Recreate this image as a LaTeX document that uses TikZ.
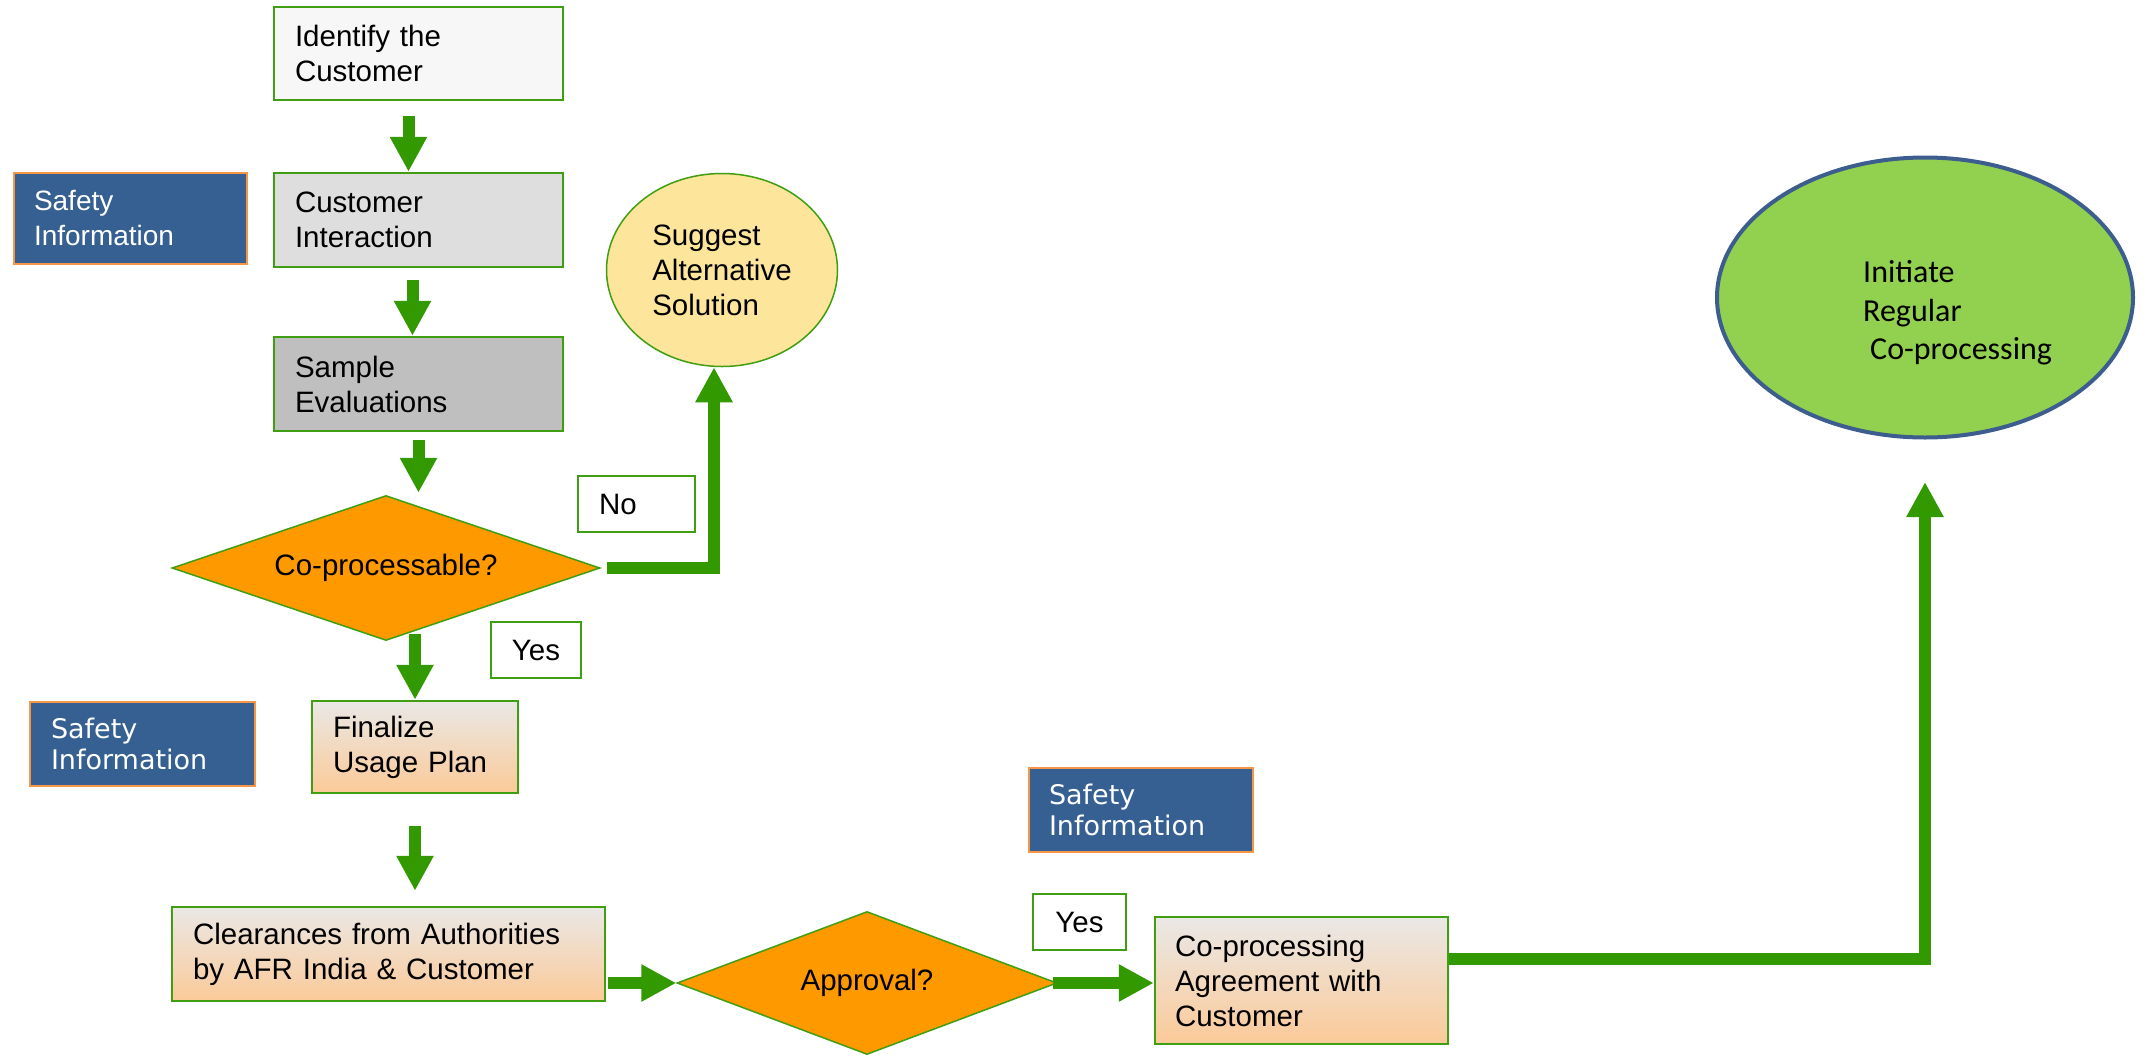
\documentclass[tikz,border=0pt]{standalone}
\usepackage{fontspec}
\setmainfont{Liberation Sans}
\newfontfamily\verdanafont{DejaVu Sans}
\newfontfamily\calibrifont{Carlito}
\usepackage{xcolor}
\usetikzlibrary{shapes.geometric, arrows.meta}

\definecolor{boxgreen}{HTML}{3F9E12}
\definecolor{arrowgreen}{HTML}{339900}
\definecolor{safeblue}{HTML}{366092}
\definecolor{safeorange}{HTML}{F79646}
\definecolor{decorange}{HTML}{FF9900}
\definecolor{paleyellow}{HTML}{FDE59B}
\definecolor{limegreen}{HTML}{92D050}
\definecolor{ovalblue}{HTML}{3C5D8E}
\definecolor{peach}{HTML}{FBCA98}
\definecolor{lightgrey}{HTML}{EAE8E6}

\tikzset{
  procbox/.style={rectangle, draw=boxgreen, line width=2.5pt, align=left, inner xsep=21pt, inner ysep=0pt, font=\fontsize{29.5}{35}\selectfont},
  planbox/.style={procbox, top color=lightgrey, bottom color=peach},
  safebox/.style={rectangle, draw=safeorange, fill=safeblue, text=white, line width=2.5pt, align=left, inner xsep=20pt, inner ysep=0pt},
  decision/.style={diamond, draw=boxgreen, fill=decorange, line width=1.5pt, inner sep=0pt, aspect=3, font=\fontsize{29.5}{35}\selectfont},
  answer/.style={rectangle, draw=boxgreen, fill=white, line width=2pt, inner sep=0pt, minimum height=56pt, font=\fontsize{29.5}{35}\selectfont},
  flow/.style={draw=arrowgreen, line width=12pt, -{Triangle[width=35pt,length=35pt]}}
}

\begin{document}
\begin{tikzpicture}[x=1pt,y=-1pt]
\useasboundingbox (0,0) rectangle (2147,1055);

\node[procbox, fill=black!3, text width=247pt, minimum height=93pt] (ident) at (418.5,53.5) {Identify the\\Customer};
\node[procbox, fill=black!13, text width=247pt, minimum height=94pt] (interact) at (418.5,220) {Customer\\Interaction};
\node[procbox, fill=black!25, text width=247pt, minimum height=94pt] (sample) at (418.5,384) {Sample\\Evaluations};
\node[decision, minimum width=428pt, minimum height=145pt] (cop) at (386,568) {Co-processable?};
\node[planbox, text width=164pt, minimum height=92pt] (fin) at (415,747) {Finalize\\Usage Plan};
\node[planbox, text width=391pt, minimum height=94pt] (clear) at (388.5,954) {Clearances from Authorities\\by AFR India \& Customer};
\node[decision, minimum width=380pt, minimum height=143pt] (appr) at (867,983) {Approval?};
\node[planbox, inner xsep=20pt, text width=253pt, minimum height=127pt] (agree) at (1301.5,980.5) {Co-processing\\Agreement with\\Customer};

\node[ellipse, draw=boxgreen, fill=paleyellow, line width=1.5pt, minimum width=231pt, minimum height=193pt, inner sep=0pt, align=left, font=\fontsize{29.5}{35}\selectfont] (sugg) at (722,270) {Suggest\\Alternative\\Solution};
\node[ellipse, draw=ovalblue, fill=limegreen, line width=4pt, minimum width=416pt, minimum height=280pt] (init) at (1925,297.5) {};
\node[anchor=west, inner sep=0pt, align=left, font=\calibrifont\fontsize{32}{38.5}\selectfont] (inittext) at (1863,313) {Initiate\\Regular\\\hspace*{7pt}Co-processing};

\node[safebox, text width=193pt, minimum height=91pt, font=\fontsize{28}{35}\selectfont] (safe1) at (130.5,218.5) {Safety\\Information};
\node[safebox, inner xsep=21pt, text width=183pt, minimum height=84pt, font=\verdanafont\fontsize{27}{31.5}\selectfont] (safe2) at (142.5,744) {Safety\\Information};
\node[safebox, text width=184pt, minimum height=84pt, font=\verdanafont\fontsize{27}{31.5}\selectfont] (safe3) at (1141,810) {Safety\\Information};

\node[answer, inner xsep=21pt, text width=75pt, align=left] (no) at (636.5,504) {No};
\node[answer, minimum width=90pt] (yes1) at (536,650) {Yes};
\node[answer, minimum width=93pt] (yes2) at (1079.5,922) {Yes};

\draw[flow, shorten <=15pt] ([xshift=-10pt]ident.south) -- ([xshift=-10pt]interact.north);
\draw[flow, shorten <=12pt] ([xshift=-6pt]interact.south) -- ([xshift=-6pt]sample.north);
\draw[flow, shorten <=8pt, shorten >=2pt] (sample.south) -- (sample.south |- cop.north);
\draw[flow, shorten <=6pt] (cop.east) -| ([xshift=-8pt]sugg.south);
\draw[flow, shorten <=-7pt] (fin.north |- cop.south) -- (fin.north);
\draw[flow, shorten <=32pt, shorten >=15pt] (fin.south) -- (fin.south |- clear.north);
\draw[flow, shorten <=2pt] (clear.east |- appr.west) -- (appr.west);
\draw[flow, shorten <=-5pt] (appr.east) -- (appr.east -| agree.west);
\coordinate (initin) at (1925,482);
\draw[flow] ([yshift=22pt]agree.east) -| (initin);
\end{tikzpicture}
\end{document}
